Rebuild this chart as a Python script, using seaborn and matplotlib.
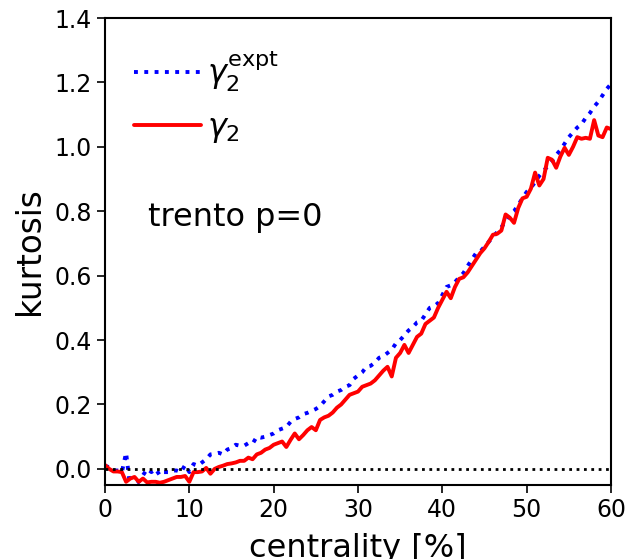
import numpy as np
import pandas as pd
import matplotlib
matplotlib.use('Agg')
import matplotlib.pyplot as plt
import seaborn as sns

# centrality bins (0.5% steps)
centrality = np.arange(0, 60.5, 0.5)

# gamma_2 (red solid)
gamma2 = [0.012, 0.0, -0.008, -0.008, -0.01, -0.04, -0.03, -0.025, -0.04, -0.03,
          -0.042, -0.04, -0.04, -0.043, -0.04, -0.035, -0.03, -0.025, -0.025, -0.022,
          -0.04, -0.01, -0.01, -0.008, 0.003, -0.015, 0.0, 0.006, 0.01, 0.015,
          0.017, 0.02, 0.025, 0.025, 0.035, 0.03, 0.045, 0.05, 0.06, 0.065,
          0.075, 0.08, 0.085, 0.068, 0.09, 0.11, 0.092, 0.105, 0.12, 0.13,
          0.12, 0.152, 0.16, 0.165, 0.175, 0.19, 0.2, 0.215, 0.23, 0.235,
          0.24, 0.255, 0.26, 0.265, 0.275, 0.29, 0.305, 0.317, 0.287, 0.345,
          0.36, 0.385, 0.36, 0.385, 0.41, 0.42, 0.45, 0.46, 0.47, 0.5,
          0.525, 0.55, 0.53, 0.565, 0.59, 0.595, 0.61, 0.63, 0.65, 0.67,
          0.685, 0.705, 0.727, 0.73, 0.74, 0.79, 0.78, 0.764, 0.81, 0.84,
          0.845, 0.87, 0.92, 0.88, 0.9, 0.966, 0.96, 0.935, 0.97, 0.997,
          0.975, 1.0, 1.03, 1.025, 1.028, 1.025, 1.083, 1.035, 1.03, 1.06,
          1.055]

# gamma_2^expt (blue dotted)
gamma2_expt = [0.01, 0.005, -0.005, -0.005, -0.01, 0.05, -0.06, -0.05, -0.04, -0.02,
               0.0, -0.01, 0.0, -0.02, -0.01, -0.01, -0.005, -0.005, -0.01, 0.012,
               -0.01, 0.015, 0.01, 0.02, 0.03, 0.045, 0.047, 0.05, 0.045, 0.06,
               0.065, 0.075, 0.072, 0.072, 0.08, 0.078, 0.1, 0.097, 0.1, 0.105,
               0.11, 0.12, 0.125, 0.13, 0.146, 0.155, 0.16, 0.17, 0.174, 0.18,
               0.186, 0.195, 0.21, 0.225, 0.23, 0.24, 0.245, 0.255, 0.26, 0.28,
               0.29, 0.3, 0.317, 0.32, 0.33, 0.345, 0.35, 0.36, 0.37, 0.39,
               0.4, 0.415, 0.43, 0.44, 0.455, 0.46, 0.48, 0.5, 0.505, 0.515,
               0.54, 0.565, 0.57, 0.58, 0.595, 0.608, 0.63, 0.65, 0.67, 0.675,
               0.69, 0.705, 0.72, 0.735, 0.75, 0.77, 0.79, 0.8, 0.82, 0.84,
               0.86, 0.873, 0.89, 0.91, 0.925, 0.94, 0.955, 0.975, 0.99, 1.01,
               1.03, 1.045, 1.06, 1.07, 1.09, 1.105, 1.125, 1.14, 1.16, 1.18,
               1.195]

df = pd.DataFrame({'centrality': centrality, 'expt': gamma2_expt, 'g2': gamma2})

sns.set_style('ticks')
plt.rcParams['font.family'] = ['DejaVu Sans']
plt.rcParams['mathtext.fontset'] = 'dejavusans'
for k in ['text.color', 'axes.labelcolor', 'xtick.color', 'ytick.color', 'axes.edgecolor']:
    plt.rcParams[k] = 'black'

fig = plt.figure(figsize=(6.38, 5.59), dpi=100)
ax = fig.add_axes([105 / 638, 74 / 559, 506 / 638, 467 / 559])

sns.lineplot(data=df, x='centrality', y='expt', ax=ax, color='blue', linestyle=':',
             linewidth=2.8, label=r'$\gamma_2^{\rm expt}$')
sns.lineplot(data=df, x='centrality', y='g2', ax=ax, color='red', linestyle='-',
             linewidth=2.8, label=r'$\gamma_2$')
ax.axhline(0, color='black', linestyle=':', linewidth=2)

ax.set_xlim(0, 60)
ax.set_ylim(-0.05, 1.4)
ax.set_xticks([0, 10, 20, 30, 40, 50, 60])
ax.set_yticks([0.0, 0.2, 0.4, 0.6, 0.8, 1.0, 1.2, 1.4])
ax.set_yticklabels(['0.0', '0.2', '0.4', '0.6', '0.8', '1.0', '1.2', '1.4'])
ax.tick_params(labelsize=17, width=1.2, length=6, direction='out')
for s in ax.spines.values():
    s.set_linewidth(1.5)
    s.set_visible(True)

ax.set_xlabel('centrality [%]', fontsize=23, labelpad=8)
ax.set_ylabel('kurtosis', fontsize=23.5, labelpad=6)
ax.text(5.1, 0.78, 'trento p=0', fontsize=23, va='center')

ax.legend(loc='upper left', frameon=False, fontsize=23, handlelength=2.1,
          handletextpad=0.2, bbox_to_anchor=(0.0, 0.995), labelspacing=0.55)

fig.savefig('out.png', dpi=100)
